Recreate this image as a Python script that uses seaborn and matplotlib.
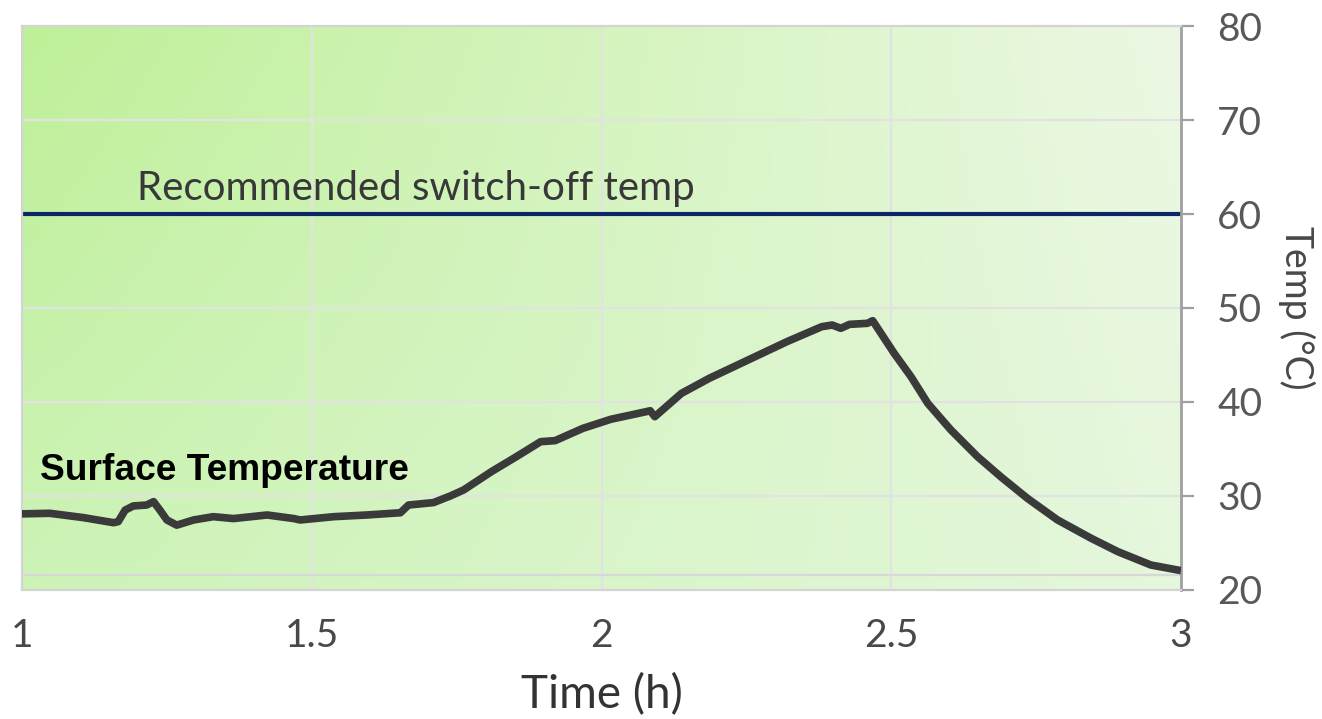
import numpy as np
import pandas as pd
import matplotlib
matplotlib.use("Agg")
import matplotlib.pyplot as plt
import seaborn as sns

# ---- data ----
time_h = [1.0, 1.048, 1.106, 1.158, 1.166, 1.178, 1.192, 1.215, 1.227, 1.238,
          1.250, 1.267, 1.296, 1.330, 1.365, 1.423, 1.469, 1.480, 1.538, 1.595,
          1.653, 1.667, 1.710, 1.739, 1.762, 1.810, 1.853, 1.895, 1.920, 1.968,
          2.016, 2.077, 2.084, 2.092, 2.138, 2.186, 2.253, 2.320, 2.380, 2.398,
          2.413, 2.428, 2.459, 2.468, 2.505, 2.534, 2.563, 2.603, 2.649, 2.689,
          2.735, 2.787, 2.845, 2.891, 2.948, 3.0]
surface_temp = [28.1, 28.16, 27.7, 27.16, 27.27, 28.5, 28.94, 29.04, 29.4, 28.5,
                27.45, 26.9, 27.45, 27.8, 27.6, 27.98, 27.6, 27.45, 27.8, 27.98,
                28.22, 29.04, 29.3, 30.0, 30.64, 32.59, 34.18, 35.78, 35.89, 37.2,
                38.16, 38.97, 39.07, 38.44, 40.92, 42.52, 44.47, 46.42, 48.01, 48.19,
                47.84, 48.26, 48.37, 48.65, 45.18, 42.7, 39.86, 37.02, 34.18, 32.05,
                29.75, 27.45, 25.5, 24.08, 22.66, 22.06]
switch_off_temp = 60
x_ticks = [1, 1.5, 2, 2.5, 3]
x_tick_labels = ["1", "1.5", "2", "2.5", "3"]
y_ticks = [20, 30, 40, 50, 60, 70, 80]
series_label = "Surface Temperature"
threshold_label = "Recommended switch-off temp"

df = pd.DataFrame({"Time (h)": time_h, "Temp (°C)": surface_temp})

sns.set_theme(style="white")
plt.rcParams["font.family"] = ["Lato", "DejaVu Sans"]

W, H = 1322, 719
fig = plt.figure(figsize=(W / 100, H / 100), dpi=100)
ax = fig.add_axes([22 / W, 1 - 590 / H, (1181 - 22) / W, (590 - 26) / H])

# gradient background
ny, nx = 64, 128
tl = np.array([190, 240, 152]) / 255
tr = np.array([236, 248, 228]) / 255
bl = np.array([205, 243, 183]) / 255
br = np.array([229, 247, 220]) / 255
u = np.linspace(0, 1, nx)[None, :, None]
v = np.linspace(0, 1, ny)[:, None, None]
top = tl * (1 - u) + tr * u
bot = bl * (1 - u) + br * u
img = top * (1 - v) + bot * v
ax.imshow(img, extent=[0, 1, 0, 1], transform=ax.transAxes, aspect="auto",
          zorder=0, interpolation="bilinear")

# grid
for gx in [1.5, 2, 2.5]:
    ax.axvline(gx, color="#e2e2e2", lw=1.6, zorder=1)
for gy in [30, 40, 50, 70]:
    ax.axhline(gy, color="#e2e2e2", lw=1.6, zorder=1)
ax.axhline(21.6, color="#d8d8d8", lw=1.6, zorder=1)

# threshold line
ax.axhline(switch_off_temp, color="#0b2566", lw=3, zorder=2)
ax.text(1.199, 61.5, threshold_label, fontsize=29, color="#383838",
        ha="left", va="baseline", zorder=3)

# data line
sns.lineplot(data=df, x="Time (h)", y="Temp (°C)", ax=ax, color="#3a3a3a",
             lw=5.5, sort=False, estimator=None, zorder=4,
             solid_joinstyle="round", solid_capstyle="butt")

ax.text(1.031, 31.7, series_label, fontsize=26.7, fontweight="bold",
        color="black", ha="left", va="baseline",
        family=["Liberation Sans", "DejaVu Sans"], zorder=5)

ax.set_xlim(1, 3)
ax.set_ylim(20, 80)
ax.set_xticks(x_ticks)
ax.set_xticklabels(x_tick_labels)
ax.set_yticks(y_ticks)

ax.yaxis.tick_right()
ax.yaxis.set_label_position("right")
ax.tick_params(axis="x", length=0, pad=20, labelsize=28, labelcolor="#484848")
ax.tick_params(axis="y", length=9, width=1.6, color="#a0a0a0", pad=17,
               labelsize=28, labelcolor="#585858", right=True, left=False)

ax.set_xlabel("Time (h)", fontsize=33, color="#333333", labelpad=14)
ax.set_ylabel("Temp (°C)", fontsize=27, color="#484848", rotation=270,
              va="bottom", labelpad=11)

for side in ["left", "top", "bottom"]:
    ax.spines[side].set_color("#d4d4d4")
    ax.spines[side].set_linewidth(1.6)
ax.spines["right"].set_color("#a0a0a0")
ax.spines["right"].set_linewidth(2)
ax.grid(False)

fig.savefig("out.png", dpi=100)
